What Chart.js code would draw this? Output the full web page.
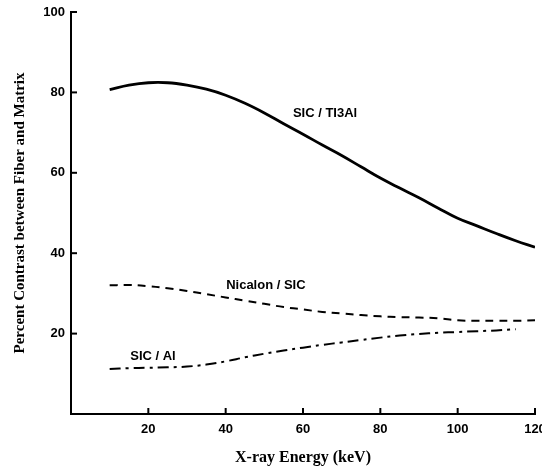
<!DOCTYPE html>
<html>
<head>
<meta charset="utf-8">
<script src="https://cdn.jsdelivr.net/npm/chart.js@4.4.1/dist/chart.umd.min.js"></script>
<style>
  html, body { margin: 0; padding: 0; background: #fff; overflow: hidden; }
  #wrap { width: 542px; height: 467px; }
</style>
</head>
<body>
<div id="wrap"><canvas id="contrast-chart" width="542" height="467"></canvas></div>
<script>
// X-ray energy (keV) for each sample point
const energies = [10, 15, 20, 25, 30, 35, 40, 45, 50, 55, 60, 65, 70, 75, 80, 85, 90, 95, 100, 105, 110, 115, 120];

// Percent contrast
const sicTi3al = [80.7, 81.8, 82.4, 82.4, 81.8, 80.8, 79.3, 77.3, 74.9, 72.2, 69.6, 66.9, 64.3, 61.5, 58.7, 56.2, 53.8, 51.2, 48.7, 46.8, 44.9, 43.1, 41.5];
const nicalonSic = [32.0, 32.1, 31.8, 31.3, 30.6, 29.8, 29.0, 28.2, 27.4, 26.6, 26.0, 25.4, 25.0, 24.6, 24.3, 24.1, 24.0, 23.8, 23.3, 23.2, 23.2, 23.2, 23.3];
const sicAl = [11.2, 11.4, 11.5, 11.6, 11.8, 12.3, 13.1, 14.1, 15.0, 15.8, 16.5, 17.2, 17.8, 18.4, 19.0, 19.5, 19.9, 20.2, 20.4, 20.6, 20.8, 21.1];

// Axis ticks
const xTicks = [20, 40, 60, 80, 100, 120];
const yTicks = [20, 40, 60, 80, 100];

// Curve labels, placed in data coordinates
const curveLabels = [
    { text: 'SIC / TI3Al', x: 65.7, y: 74.8 },
    { text: 'Nicalon / SIC', x: 50.4, y: 32.0 },
    { text: 'SIC / Al', x: 21.2, y: 14.2 }
];

const toPoints = values => values.map((v, i) => ({ x: energies[i], y: v }));

const serifFamily = '"Liberation Serif", "Times New Roman", serif';
const sansBold = { family: '"Liberation Sans", Arial, sans-serif', size: 13, weight: 'bold' };

// Draw tick marks pointing into the plot, and the curve labels
const figurePlugin = {
    id: 'figureExtras',
    afterDraw(chart) {
        const ctx = chart.ctx;
        const xs = chart.scales.x;
        const ys = chart.scales.y;
        const area = chart.chartArea;
        ctx.save();
        ctx.strokeStyle = '#000';
        ctx.lineWidth = 2;
        xTicks.forEach(t => {
            const px = xs.getPixelForValue(t);
            ctx.beginPath();
            ctx.moveTo(px, area.bottom);
            ctx.lineTo(px, area.bottom - 6);
            ctx.stroke();
        });
        yTicks.forEach(t => {
            const py = ys.getPixelForValue(t);
            ctx.beginPath();
            ctx.moveTo(area.left, py);
            ctx.lineTo(area.left + 6, py);
            ctx.stroke();
        });

        ctx.fillStyle = '#000';
        ctx.font = 'bold 13px "Liberation Sans", Arial, sans-serif';
        ctx.textAlign = 'center';
        ctx.textBaseline = 'middle';
        curveLabels.forEach(l => {
            ctx.fillText(l.text, xs.getPixelForValue(l.x), ys.getPixelForValue(l.y));
        });
        ctx.restore();
    }
};

const contrastChart = new Chart(document.getElementById('contrast-chart'), {
    type: 'line',
    data: {
        datasets: [
            {
                label: 'SIC / TI3Al',
                data: toPoints(sicTi3al),
                borderColor: '#000',
                borderWidth: 2.8,
                pointRadius: 0,
                tension: 0.4,
                fill: false
            },
            {
                label: 'Nicalon / SIC',
                data: toPoints(nicalonSic),
                borderColor: '#000',
                borderWidth: 2,
                borderDash: [8, 6],
                pointRadius: 0,
                tension: 0.4,
                fill: false
            },
            {
                label: 'SIC / Al',
                data: toPoints(sicAl),
                borderColor: '#000',
                borderWidth: 2,
                borderDash: [11, 5, 3, 5],
                pointRadius: 0,
                tension: 0.4,
                fill: false
            }
        ]
    },
    options: {
        responsive: false,
        animation: false,
        layout: { padding: { top: 12, right: 7, left: 0, bottom: 0 } },
        plugins: {
            legend: { display: false },
            tooltip: { enabled: false }
        },
        scales: {
            x: {
                type: 'linear',
                min: 0,
                max: 120,
                border: { display: true, color: '#000', width: 2 },
                grid: { drawOnChartArea: false, drawTicks: false },
                ticks: {
                    stepSize: 20,
                    color: '#000',
                    font: sansBold,
                    padding: 8,
                    maxRotation: 0,
                    callback: v => (v === 0 ? null : v)
                },
                title: {
                    display: true,
                    text: 'X-ray Energy (keV)',
                    color: '#000',
                    font: { family: serifFamily, size: 16, weight: 'bold' },
                    padding: { top: 3, bottom: 0 }
                },
                afterFit(scale) {
                    scale.height = 53;
                    scale.paddingLeft = 0;
                    scale.paddingRight = 0;
                }
            },
            y: {
                type: 'linear',
                min: 0,
                max: 100,
                border: { display: true, color: '#000', width: 2 },
                grid: { drawOnChartArea: false, drawTicks: false },
                ticks: {
                    stepSize: 20,
                    color: '#000',
                    font: sansBold,
                    padding: 6,
                    callback: v => (v === 0 ? null : v)
                },
                title: {
                    display: true,
                    text: 'Percent Contrast between Fiber and Matrix',
                    color: '#000',
                    font: { family: serifFamily, size: 15, weight: 'bold' },
                    padding: { top: 11, bottom: 0 }
                },
                afterFit(scale) {
                    scale.width = 71;
                    scale.paddingTop = 0;
                    scale.paddingBottom = 0;
                }
            }
        }
    },
    plugins: [figurePlugin]
});
</script>
</body>
</html>
